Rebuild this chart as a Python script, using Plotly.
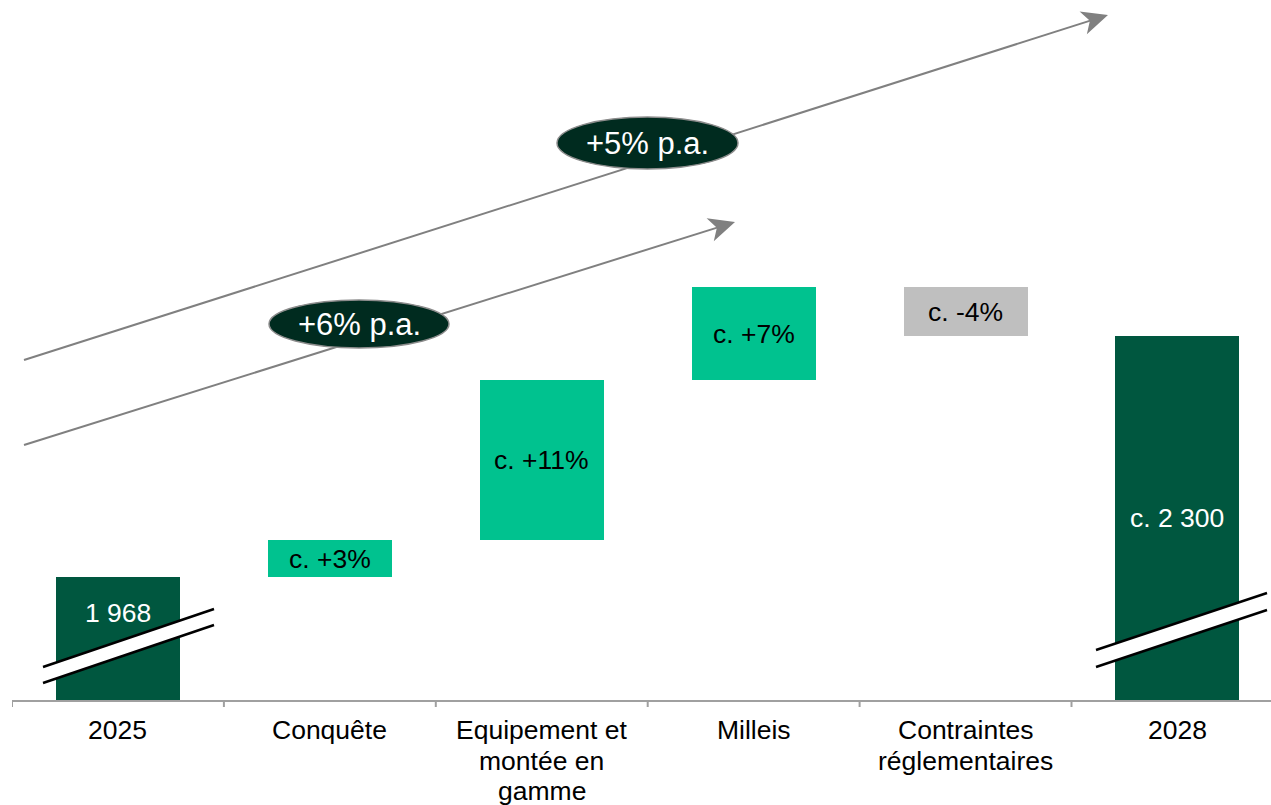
import plotly.graph_objects as go

# ---- data ----
categories = ["2025", "Conquête", "Equipement et<br>montée en<br>gamme", "Milleis",
              "Contraintes<br>réglementaires", "2028"]
# values in chart units (broken axis)
start_value = 123
deltas = [37, 160, 93, -49]
end_value = 364
labels = ["1 968", "c. +3%", "c. +11%", "c. +7%", "c. -4%", "c. 2 300"]
growth_labels = ["+5% p.a.", "+6% p.a."]

DARK = "#00573F"
LIGHT = "#00C28F"
GREY = "#BFBFBF"
ELL = "#002B1F"
FONT = "Liberation Sans, Arial, sans-serif"

# build bases / heights
bases, heights, colors, txtcol = [], [], [], []
cum = start_value
bases.append(0); heights.append(start_value); colors.append(DARK); txtcol.append("white")
for d in deltas:
    if d >= 0:
        bases.append(cum); heights.append(d); colors.append(LIGHT)
    else:
        bases.append(cum + d); heights.append(-d); colors.append(GREY)
    txtcol.append("black")
    cum += d
bases.append(0); heights.append(end_value); colors.append(DARK); txtcol.append("white")

W, H = 1271, 805
ML, MB = 12, 105
plot_w = W - ML
plot_h = H - MB
cat_px = 211.9

fig = go.Figure()
fig.add_trace(go.Bar(
    x=list(range(len(categories))), y=heights, base=bases,
    marker=dict(color=colors, line=dict(width=0)),
    width=0.585, hoverinfo="skip", showlegend=False,
))

# paper coordinate helpers (pixel -> paper)
def px(xp):
    return (xp - ML) / plot_w

def py(yp):
    return (plot_h - yp) / plot_h

shapes = []
annotations = []

# growth arrows (lines + heads)
arrows = [((24, 360), (1108, 15)), ((24, 445), (735, 222))]
for (x0, y0), (x1, y1) in arrows:
    dx, dy = x1 - x0, y1 - y0
    L = (dx * dx + dy * dy) ** 0.5
    ux, uy = dx / L, dy / L
    nx, ny = -uy, ux
    hl, hw, notch = 26, 12, 7
    bx, by = x1 - ux * hl, y1 - uy * hl
    shapes.append(dict(type="line", xref="paper", yref="paper",
                       x0=px(x0), y0=py(y0), x1=px(x1 - ux * 12), y1=py(y1 - uy * 12),
                       line=dict(color="#808080", width=2)))
    pts = [(x1, y1), (bx + nx * hw, by + ny * hw),
           (x1 - ux * (hl - notch), y1 - uy * (hl - notch)),
           (bx - nx * hw, by - ny * hw)]
    path = "M " + " L ".join(f"{px(a):.5f},{py(b):.5f}" for a, b in pts) + " Z"
    shapes.append(dict(type="path", xref="paper", yref="paper", path=path,
                       fillcolor="#808080", line=dict(width=0)))

# ellipses
ellipses = [(557, 117, 738, 169), (269, 300, 449, 348)]
centers = [(647, 143), (359, 324)]
for (a, b, c, d) in ellipses:
    shapes.append(dict(type="circle", xref="paper", yref="paper",
                       x0=px(a), x1=px(c), y0=py(d), y1=py(b),
                       fillcolor=ELL, line=dict(color="#8C8C8C", width=1.5)))
for (cx, cy), t in zip(centers, growth_labels):
    annotations.append(dict(xref="paper", yref="paper", x=px(cx), y=py(cy),
                            xanchor="center", yanchor="middle",
                            text=t, showarrow=False,
                            font=dict(family=FONT, size=31, color="white")))

# axis break marks
breaks = [((43, 667), (214, 609), 16), ((1096, 650), (1267, 593), 17)]
for (x0, y0), (x1, y1), g in breaks:
    path = (f"M {px(x0):.5f},{py(y0):.5f} L {px(x1):.5f},{py(y1):.5f} "
            f"L {px(x1):.5f},{py(y1 + g):.5f} L {px(x0):.5f},{py(y0 + g):.5f} Z")
    shapes.append(dict(type="path", xref="paper", yref="paper", path=path,
                       fillcolor="white", line=dict(width=0)))
    for off in (0, g):
        shapes.append(dict(type="line", xref="paper", yref="paper",
                           x0=px(x0), y0=py(y0 + off), x1=px(x1), y1=py(y1 + off),
                           line=dict(color="black", width=2.5)))

# bar labels
for i, (b, h, t, c) in enumerate(zip(bases, heights, labels, txtcol)):
    yc = b + h / 2
    if i == 0:
        yc = b + h * 0.71
    annotations.append(dict(x=i, y=yc, xref="x", yref="y", text=t, showarrow=False,
                            xanchor="center", yanchor="middle",
                            font=dict(family=FONT, size=26.5, color=c)))

# category labels (one annotation per line for tight line spacing)
for i, cat in enumerate(categories):
    for j, line in enumerate(cat.split("<br>")):
        annotations.append(dict(x=i, y=py(730 + 30.5 * j), xref="x", yref="paper",
                                text=line, showarrow=False, height=28,
                                xanchor="center", yanchor="middle",
                                font=dict(family=FONT, size=26.5, color="black")))

fig.update_layout(
    width=W, height=H,
    margin=dict(l=ML, r=0, t=0, b=MB),
    paper_bgcolor="white", plot_bgcolor="white",
    shapes=shapes, annotations=annotations,
    bargap=0,
    xaxis=dict(
        tickmode="array", tickvals=list(range(len(categories))),
        range=[-0.5, -0.5 + plot_w / cat_px],
        showgrid=False, zeroline=False, showticklabels=False,
        showline=True, linecolor="#A0A0A0", linewidth=2,
        ticks="",
    ),
    yaxis=dict(range=[0, plot_h], visible=False, showgrid=False, zeroline=False),
    font=dict(family=FONT),
)

# category boundary ticks
for k in range(len(categories) + 1):
    xb = -0.5 + k
    fig.add_shape(dict(type="line", xref="x", yref="paper", x0=xb, x1=xb,
                       y0=0, y1=-7 / plot_h, line=dict(color="#A0A0A0", width=2)))

fig.write_html("out.html")
